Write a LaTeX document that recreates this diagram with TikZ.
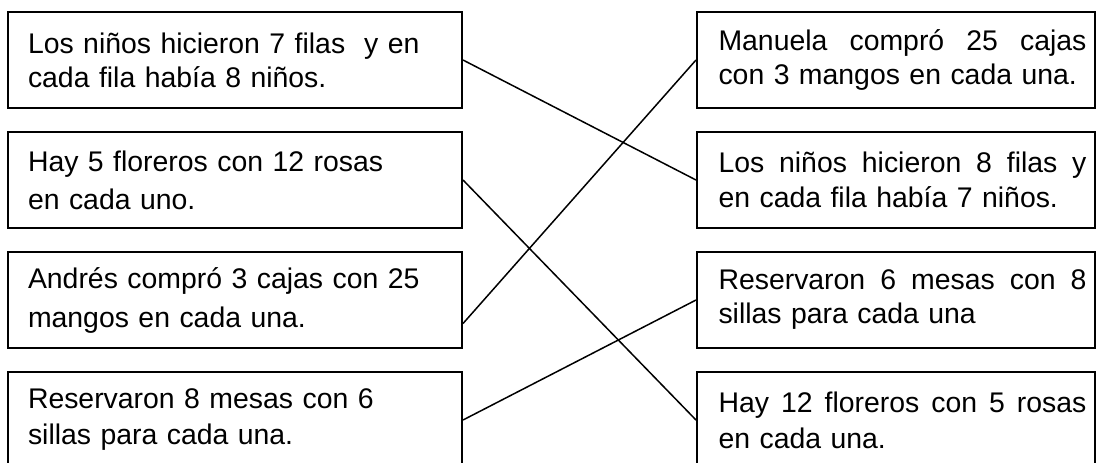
\documentclass[tikz,border=0pt]{standalone}
\usepackage{fontspec}
\setmainfont{Liberation Sans}
\usepackage{tikz}
\usetikzlibrary{calc}
\newcommand{\jline}[1]{\hspace*{6.5pt}\hbox to 184pt{\spaceskip=0.28em plus 1fil\relax #1}}
\newcommand{\rline}[1]{\hspace*{6.5pt}#1}

\begin{document}
\begin{tikzpicture}[x=0.5pt, y=-0.5pt,
  box/.style={draw, line width=1pt, rectangle, inner xsep=0pt, inner ysep=0pt, minimum height=48pt, align=left, font=\fontsize{14.2}{17}\selectfont},
  leftbox/.style={box, minimum width=227pt, text width=207pt},
  rightbox/.style={box, minimum width=199pt, text width=190.5pt}]
\path[use as bounding box, fill=white] (0,0) rectangle (1096,462);

\node[leftbox] (L1) at (235,60) {Los niños hicieron 7 filas \ y en\\cada fila había 8 niños.};
\node[leftbox] (L2) at (235,180) {Hay 5 floreros con 12 rosas\\[2pt]en cada uno.};
\node[leftbox] (L3) at (235,300) {Andrés compró 3 cajas con 25\\[2.5pt]mangos en cada una.};
\node[leftbox] (L4) at (235,420) {Reservaron 8 mesas con 6\\[1pt]sillas para cada una.};

\node[rightbox] (R1) at (896,60) {\jline{Manuela compró 25 cajas}\\\rline{con 3 mangos en cada una.}};
\node[rightbox] (R2) at (896,180) {\jline{Los niños hicieron 8 filas y}\\[0.5pt]\rline{en cada fila había 7 niños.}};
\node[rightbox] (R3) at (896,300) {\jline{Reservaron 6 mesas con 8}\\\rline{sillas para cada una}};
\node[rightbox] (R4) at (896,420) {\jline{Hay 12 floreros con 5 rosas}\\[1pt]\rline{en cada una.}};

\draw[line width=0.75pt] (L1.east) -- (R2.west);
\draw[line width=0.75pt] (L2.east) -- (R4.west);
\draw[line width=0.75pt] ($(L3.north east)!0.74!(L3.south east)$) -- (R1.west);
\draw[line width=0.75pt] (L4.east) -- (R3.west);
\end{tikzpicture}
\end{document}
